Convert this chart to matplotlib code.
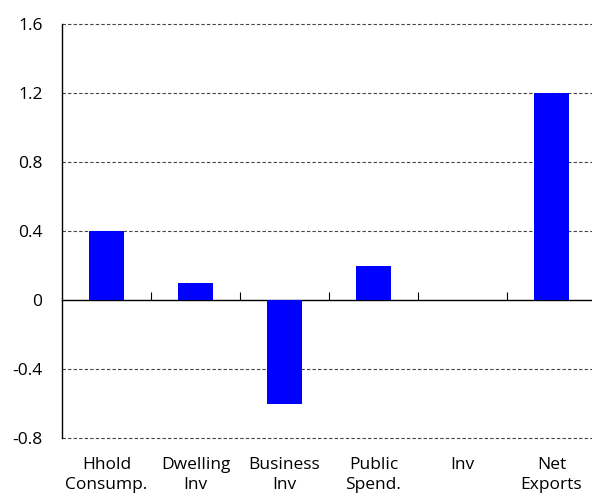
import matplotlib
matplotlib.use("Agg")
import matplotlib.pyplot as plt
import numpy as np

categories = ["Hhold\nConsump.", "Dwelling\nInv", "Business\nInv", "Public\nSpend.", "Inv", "Net\nExports"]
values = [0.4, 0.1, -0.6, 0.2, 0.0, 1.2]
yticks = [-0.8, -0.4, 0, 0.4, 0.8, 1.2, 1.6]
ytick_labels = ["-0.8", "-0.4", "0", "0.4", "0.8", "1.2", "1.6"]

plt.rcParams['font.family'] = ['Open Sans', 'DejaVu Sans']
plt.rcParams['font.weight'] = 'medium'
fig = plt.figure(figsize=(5.92, 4.97), dpi=100)
ax = fig.add_axes([62/592, 1-438/497, 534/592, 414/497])

x = np.arange(len(categories))
ax.bar(x, values, width=0.4, color="#0000FF", zorder=3)
ax.set_xlim(-0.5, len(categories)-0.5)
ax.set_ylim(-0.8, 1.6)
ax.set_yticks(yticks)
ax.set_yticklabels(ytick_labels, fontsize=12.5)
ax.tick_params(axis='y', length=0, pad=14)
ax.set_xticks(x)
ax.set_xticklabels(categories, fontsize=12.5, linespacing=1.3)
ax.tick_params(axis='x', length=0, pad=14)

for v in yticks:
    if v != 0:
        ax.axhline(v, color="#444444", linewidth=0.8, linestyle=(0, (3, 2)), zorder=1, clip_on=False)

for s in ['top', 'right', 'bottom']:
    ax.spines[s].set_visible(False)
ax.spines['left'].set_color('black')
ax.spines['left'].set_linewidth(1.0)

sec = ax.secondary_xaxis(0.8/2.4)
sec.set_xticks(np.arange(0.5, len(categories)-0.5, 1.0))
sec.set_xticklabels([])
sec.tick_params(axis='x', direction='in', length=6, width=0.8, color='black')
sec.spines['bottom'].set_color('black')
sec.spines['bottom'].set_linewidth(1.0)

fig.savefig("out.png", dpi=100)
